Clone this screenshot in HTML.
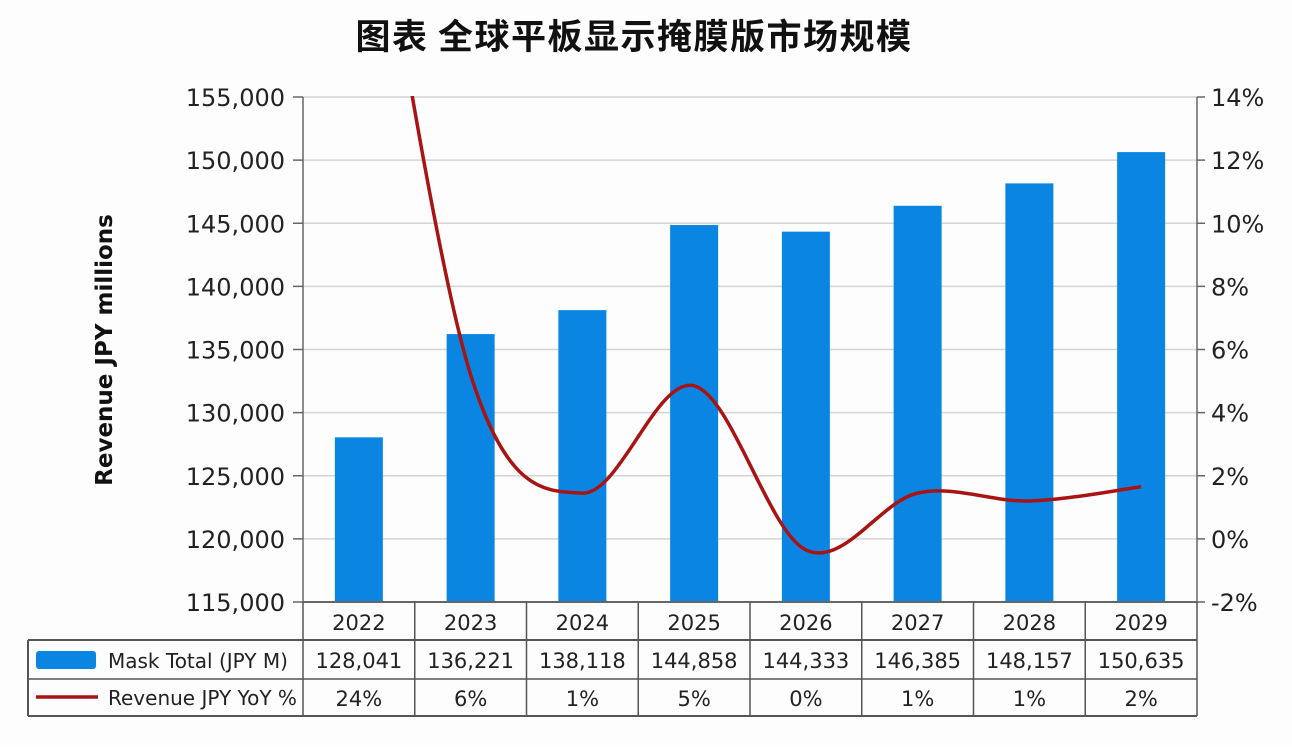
<!DOCTYPE html>
<html><head><meta charset="utf-8">
<style>
body{margin:0;background:#fff;width:1292px;height:746px;overflow:hidden;font-family:"Liberation Sans","Noto Sans CJK SC",sans-serif;}
</style></head>
<body>
<svg id="chart" width="1292" height="746" xmlns="http://www.w3.org/2000/svg">
<rect width="1292" height="746" fill="#fdfdfd"/>
<text x="634" y="49" text-anchor="middle" font-size="35" font-weight="bold" letter-spacing="1.5" fill="#111" font-family="'Noto Sans CJK SC',sans-serif">图表  全球平板显示掩膜版市场规模</text>
<text transform="translate(112,350) rotate(-90)" text-anchor="middle" font-size="23" font-weight="bold" fill="#111" font-family="'DejaVu Sans',sans-serif">Revenue JPY millions</text>
<g id="grid"></g><g id="bars"></g><g id="axes"></g>
<clipPath id="clip"><rect x="303" y="96" width="894" height="507"/></clipPath>
<g id="line" clip-path="url(#clip)"></g>
<g id="table"></g>
</svg>
<script>
const categories=["2022","2023","2024","2025","2026","2027","2028","2029"];
const revenue=[128041,136221,138118,144858,144333,146385,148157,150635];
const yoyLabels=["24%","6%","1%","5%","0%","1%","1%","2%"];
const yoyValues=[24,5.2,1.45,4.85,-0.35,1.45,1.2,1.65];
const leftTicks=[115000,120000,125000,130000,135000,140000,145000,150000,155000];
const rightTicks=[-2,0,2,4,6,8,10,12,14];
const NS="http://www.w3.org/2000/svg";
const X0=303,X1=1197,Y0=602,Y1=97;
const cw=(X1-X0)/categories.length;
const xC=i=>X0+cw*(i+0.5);
const yL=v=>Y0-(v-115000)/(40000)*(Y0-Y1);
const yR=v=>Y0-(v+2)/16*(Y0-Y1);
function mk(tag,attrs,parent,text){const e=document.createElementNS(NS,tag);for(const k in attrs)e.setAttribute(k,attrs[k]);if(text!==undefined)e.textContent=text;document.getElementById(parent).appendChild(e);return e;}
const fnt="'DejaVu Sans','Liberation Sans',sans-serif";
leftTicks.forEach((t,i)=>{const y=yL(t);
 if(i>0){const g=mk('line',{x1:X0,x2:X1,y1:y,y2:y,stroke:'#d4d4d4','stroke-width':1.5},'grid');}
 mk('line',{x1:X0-10,x2:X0,y1:y,y2:y,stroke:'#666','stroke-width':1.5},'axes');
 const l=mk('text',{x:X0-18,y:y+9,'text-anchor':'end','font-size':24,fill:'#222','font-family':fnt},'axes',t.toLocaleString('en-US'));
 });
rightTicks.forEach(t=>{const y=yR(t);
 mk('line',{x1:X1,x2:X1+8,y1:y,y2:y,stroke:'#666','stroke-width':1.5},'axes');
 const l=mk('text',{x:X1+14,y:y+9,'font-size':24,fill:'#222','font-family':fnt},'axes',t+'%');
 });
mk('line',{x1:X0,x2:X0,y1:Y1,y2:Y0,stroke:'#666','stroke-width':1.5},'axes');
mk('line',{x1:X1,x2:X1,y1:Y1,y2:Y0,stroke:'#666','stroke-width':1.5},'axes');
mk('line',{x1:X0,x2:X1,y1:Y0,y2:Y0,stroke:'#666','stroke-width':2},'axes');
revenue.forEach((v,i)=>{const b=mk('rect',{x:xC(i)-24,y:yL(v),width:48,height:Y0-yL(v),fill:'#0a86e2'},'bars');
 });
const pts=yoyValues.map((v,i)=>[xC(i),yR(v)]);
let d=`M${pts[0][0]},${pts[0][1]}`;
for(let i=0;i<pts.length-1;i++){const p0=pts[i-1]||pts[i],p1=pts[i],p2=pts[i+1],p3=pts[i+2]||p2;
 d+=` C${p1[0]+(p2[0]-p0[0])/6},${p1[1]+(p2[1]-p0[1])/6} ${p2[0]-(p3[0]-p1[0])/6},${p2[1]-(p3[1]-p1[1])/6} ${p2[0]},${p2[1]}`;}
const ln=mk('path',{d:d,fill:'none',stroke:'#a81414','stroke-width':3.5},'line');

const T0=28,R=[602,640,679,716];
mk('line',{x1:T0,x2:X1,y1:R[1],y2:R[1],stroke:'#555','stroke-width':2},'table');
mk('line',{x1:T0,x2:X1,y1:R[2],y2:R[2],stroke:'#555','stroke-width':1.5},'table');
mk('line',{x1:T0,x2:X1,y1:R[3],y2:R[3],stroke:'#555','stroke-width':2},'table');
mk('line',{x1:T0,x2:T0,y1:R[1],y2:R[3],stroke:'#555','stroke-width':2},'table');
for(let i=0;i<=categories.length;i++){mk('line',{x1:X0+cw*i,x2:X0+cw*i,y1:R[0],y2:R[3],stroke:'#555','stroke-width':1.5},'table');}
categories.forEach((c,i)=>{
 let t=mk('text',{x:xC(i),y:630,'text-anchor':'middle','font-size':21,fill:'#222','font-family':fnt},'table',c);
 
 t=mk('text',{x:xC(i),y:668,'text-anchor':'middle','font-size':21,fill:'#222','font-family':fnt},'table',revenue[i].toLocaleString('en-US'));
 
 t=mk('text',{x:xC(i),y:706,'text-anchor':'middle','font-size':21,fill:'#222','font-family':fnt},'table',yoyLabels[i]);
 });
let s=mk('rect',{x:36,y:651,width:60,height:18,rx:3,fill:'#0a86e2'},'table');

s=mk('text',{x:108,y:668,'font-size':20,fill:'#222','font-family':fnt},'table','Mask Total (JPY M)');

s=mk('line',{x1:36,x2:98,y1:697,y2:697,stroke:'#a81414','stroke-width':3.5},'table');

s=mk('text',{x:108,y:705,'font-size':20,fill:'#222','font-family':fnt},'table','Revenue JPY YoY %');

</script>
</body></html>
